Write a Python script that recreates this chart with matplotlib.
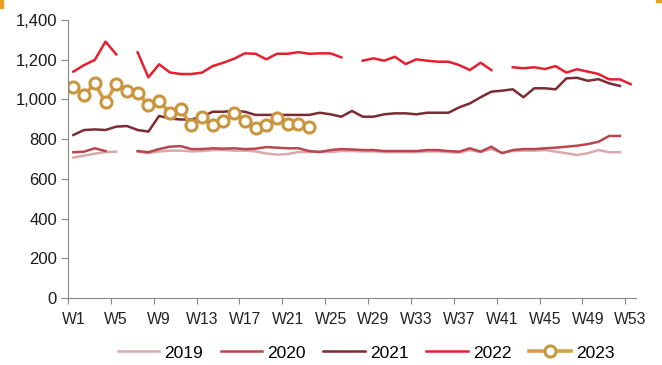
import numpy as np
import matplotlib.pyplot as plt
from matplotlib.patches import Rectangle

plt.rcParams['font.family'] = ['Liberation Sans', 'DejaVu Sans']

nan = np.nan

# weekly values (nan = no data that week)
weeks = np.arange(1, 54)
tick_weeks = [1, 5, 9, 13, 17, 21, 25, 29, 33, 37, 41, 45, 49, 53]
tick_labels = ['W%d' % w for w in tick_weeks]

y2019 = [707, 717, 727, 735, 737, nan, 737, 730, 738, 742, 742, 738, 740, 745, 745, 742,
         742, 738, 728, 722, 725, 735, 735, 738, 735, 740, 740, 738, 738, 735, 735, 735,
         735, 738, 738, 735, 732, 745, 735, 750, 732, 740, 742, 742, 745, 737, 729, 720,
         729, 745, 734, 734, nan]
y2020 = [734, 737, 754, 740, nan, nan, 740, 734, 750, 762, 765, 750, 750, 754, 752, 754,
         750, 752, 760, 757, 754, 754, 740, 735, 745, 750, 748, 745, 745, 740, 740, 740,
         740, 745, 745, 740, 737, 754, 737, 762, 729, 745, 750, 750, 754, 757, 762, 767,
         775, 787, 816, 816, nan]
y2021 = [821, 846, 849, 846, 863, 866, 846, 838, 917, 904, 899, 899, 912, 938, 938, 943,
         938, 922, 922, 922, 922, 922, 922, 933, 925, 913, 942, 913, 913, 925, 930, 930,
         925, 933, 933, 933, 960, 980, 1011, 1039, 1044, 1051, 1011, 1056, 1056, 1051, 1106, 1109,
         1094, 1102, 1081, 1068, nan]
y2022 = [1140, 1173, 1199, 1291, 1227, nan, 1237, 1111, 1177, 1136, 1128, 1128, 1135, 1168, 1185, 1205,
         1232, 1230, 1202, 1230, 1230, 1238, 1230, 1232, 1232, 1212, nan, 1195, 1207, 1195, 1215, 1178,
         1202, 1195, 1190, 1190, 1173, 1148, 1185, 1148, nan, 1162, 1157, 1162, 1153, 1168, 1135, 1152,
         1140, 1128, 1101, 1101, 1077]
y2023 = [1061, 1022, 1081, 985, 1078, 1044, 1034, 972, 994, 930, 950, 871, 910, 871, 891, 930,
         891, 858, 871, 905, 874, 874, 863]

fig = plt.figure(figsize=(6.62, 3.65), dpi=100)
ax = fig.add_axes([68/662, 1-298/365, (636-68)/662, (298-20)/365])

ax.plot(weeks, y2019, color='#d9a9ae', lw=1.8, label='2019')
ax.plot(weeks, y2020, color='#b9474d', lw=1.8, label='2020')
ax.plot(weeks, y2021, color='#7b2b31', lw=1.8, label='2021')
ax.plot(weeks, y2022, color='#e4202e', lw=1.8, label='2022')
ax.plot(weeks[:len(y2023)], y2023, color='#d6a04a', lw=2.6, marker='o', ms=8,
        mfc='white', mec='#c9963f', mew=2.2, label='2023')

ax.set_xlim(0.5, 53.5)
ax.set_ylim(0, 1400)
ax.set_yticks(range(0, 1401, 200))
ax.set_yticklabels(['{:,}'.format(v) for v in range(0, 1401, 200)])

# tick marks sit between categories, labels at category centres
ax.set_xticks([w - 0.5 for w in tick_weeks])
ax.set_xticklabels([])
ax.set_xticks(tick_weeks, minor=True)
ax.set_xticklabels(tick_labels, minor=True)
ax.tick_params(axis='x', which='major', length=4, color='#888888')
ax.tick_params(axis='x', which='minor', length=0, pad=10, labelsize=11.3, labelcolor='#222222')
ax.tick_params(axis='y', length=5, color='#888888', labelsize=12, labelcolor='#1a1a1a', pad=3)

for side in ['top', 'right']:
    ax.spines[side].set_visible(False)
for side in ['left', 'bottom']:
    ax.spines[side].set_color('#888888')

fig.legend(loc='center', bbox_to_anchor=(0.553, 0.033), ncol=5, frameon=False,
           fontsize=12.5, handlelength=2.4, columnspacing=1.0, handletextpad=0.3)

# small orange corner marks
fig.patches.append(Rectangle((0, 1-8/365), 3/662, 8/365, transform=fig.transFigure,
                             color='#e8a020'))
fig.patches.append(Rectangle((656/662, 1-2/365), 6/662, 2/365, transform=fig.transFigure,
                             color='#e8a020'))

fig.savefig('out.png', dpi=100)
